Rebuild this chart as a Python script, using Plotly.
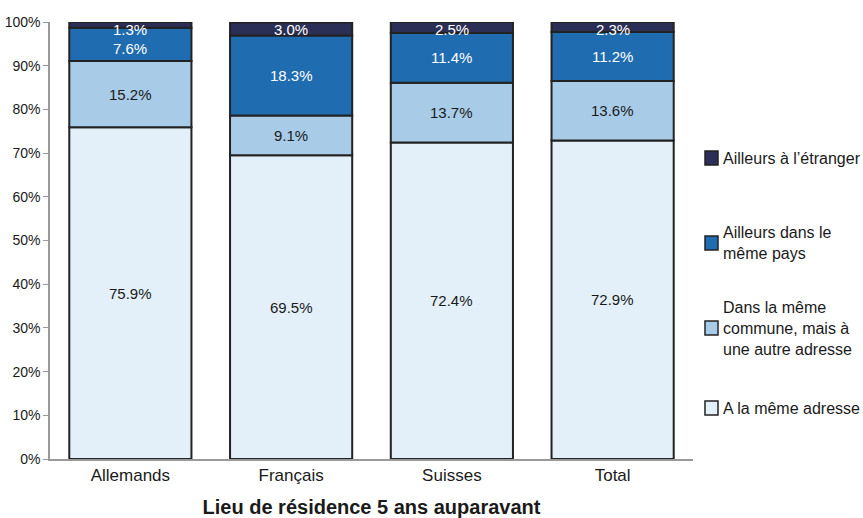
import plotly.graph_objects as go

groups = ["Allemands", "Français", "Suisses", "Total"]
meme_adresse = [75.9, 69.5, 72.4, 72.9]
meme_commune = [15.2, 9.1, 13.7, 13.6]
meme_pays = [7.6, 18.3, 11.4, 11.2]
etranger = [1.3, 3.0, 2.5, 2.3]

series = [
    ("A la même adresse", meme_adresse, "#e3f0f9", "#1a1a1a"),
    ("Dans la même<br>commune, mais à<br>une autre adresse", meme_commune, "#a8cbe8", "#1a1a1a"),
    ("Ailleurs dans le<br>même pays", meme_pays, "#1f6cb0", "#ffffff"),
    ("Ailleurs à l’étranger", etranger, "#2c2f55", "#ffffff"),
]

FONT = "Liberation Sans Narrow, Arial Narrow, Liberation Sans, Arial, sans-serif"

# plot area in pixels
PL, PR, PT, PB = 50, 693, 22, 459
W, H = 863, 518

fig = go.Figure()
annotations = []
base = [0.0] * len(groups)
for idx, (name, vals, color, txtcol) in enumerate(series):
    fig.add_trace(go.Bar(
        x=groups, y=vals, base=base[:], name=name,
        marker=dict(color=color, line=dict(color="#222222", width=2)),
        width=0.76, showlegend=False, hoverinfo="skip",
    ))
    for i, g in enumerate(groups):
        if idx == len(series) - 1:
            # top segment: text hangs from the top of the bar
            annotations.append(dict(x=g, y=100, yanchor="top", yshift=3, text=f"{vals[i]:.1f}%",
                                    showarrow=False, font=dict(color=txtcol, size=15, family=FONT)))
        else:
            shift = -4 if vals[i] < 10 and idx == 2 else 0
            annotations.append(dict(x=g, y=base[i] + vals[i] / 2, yshift=shift, text=f"{vals[i]:.1f}%",
                                    showarrow=False, font=dict(color=txtcol, size=15, family=FONT)))
        base[i] += vals[i]

# legend drawn at the right of the plot
legend_y = [158, 243, 328, 408]
shapes = []
pw, ph = PR - PL, PB - PT
for (name, vals, color, txtcol), ly in zip(reversed(series), legend_y):
    shapes.append(dict(type="rect", xref="paper", yref="paper",
                       x0=(705 - PL) / pw, x1=(718 - PL) / pw,
                       y0=1 - (ly - PT + 7) / ph, y1=1 - (ly - PT - 7) / ph,
                       fillcolor=color, line=dict(color="#222222", width=1.5)))
    annotations.append(dict(xref="paper", yref="paper", x=(721 - PL) / pw, y=1 - (ly - PT) / ph,
                            xanchor="left", yanchor="middle", align="left", text=name, showarrow=False,
                            font=dict(color="#1a1a1a", size=16, family=FONT)))

fig.update_layout(
    barmode="overlay",
    width=W, height=H,
    margin=dict(l=PL, r=W - PR, t=PT, b=H - PB, autoexpand=False),
    plot_bgcolor="white", paper_bgcolor="white",
    font=dict(family=FONT, size=14, color="#1a1a1a"),
    annotations=annotations,
    shapes=shapes,
    xaxis=dict(
        range=[-0.5, 3.5], showline=True, linecolor="#999999", linewidth=1.5,
        ticks="", tickfont=dict(size=17, family=FONT), automargin=False,
        title=dict(text="<b>Lieu de résidence 5 ans auparavant</b>", standoff=17,
                   font=dict(size=20, family="Liberation Sans, Arial, sans-serif")),
    ),
    yaxis=dict(
        range=[0, 100], dtick=10, ticksuffix="%", showgrid=False, zeroline=False,
        showline=True, linecolor="#999999", linewidth=1.5, automargin=False,
        ticks="outside", ticklen=5, tickcolor="#999999",
        tickfont=dict(size=14, family=FONT),
    ),
)

fig.write_html("out.html")
